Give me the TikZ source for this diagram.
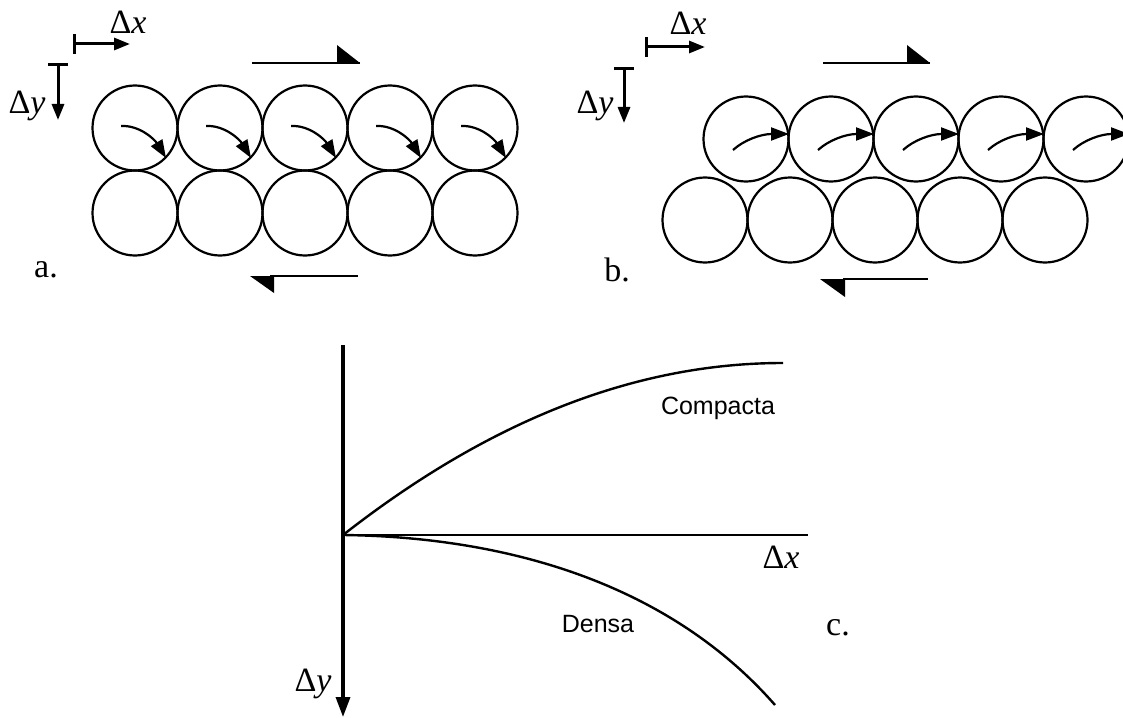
\documentclass[tikz,border=0pt]{standalone}
\usepackage{fontspec}
\newfontfamily\tms{Liberation Serif}
\newfontfamily\arl{Liberation Sans}
\usetikzlibrary{arrows.meta}
\tikzset{grain/.style={draw,circle,line width=1.1pt,minimum size=42.5pt,inner sep=0pt},
  roll/.style={line width=1.1pt,-{Triangle[length=9pt,width=6.5pt]}},
  disp/.style={line width=1.5pt,{Bar[width=10pt]}-{Triangle[length=8pt,width=6pt]}},
  lbl/.style={font=\tms\fontsize{17}{17}\selectfont},
  word/.style={font=\arl\fontsize{12.5}{12.5}\selectfont}}
\begin{document}
\begin{tikzpicture}[x=0.5pt,y=-0.5pt]
\useasboundingbox (0,0) rectangle (1123,717);
% a.
\coordinate (ax0) at (73,44); \coordinate (ax1) at (130,44);
\coordinate (ay0) at (58,63); \coordinate (ay1) at (58,120);
\draw[disp] (ax0)--(ax1);
\draw[disp] (ay0)--(ay1);
\node[lbl] (adx) at (128,22) {Δ\textit{x}};
\node[lbl] (ady) at (27,106) {Δ\textit{y}};
\foreach \xx/\nn in {135/1,220/2,305/3,390/4,475/5}{
\node[grain] (at\nn) at (\xx,128) {};
\node[grain] (ab\nn) at (\xx,213) {};
\draw[roll] (\xx-14,126) .. controls (\xx+5,125) and (\xx+20,140) .. (\xx+31,158);}
\draw[line width=1.4pt] (252,63)--(360,63);
\fill (337,45)--(337,63)--(360,63)--cycle;
\draw[line width=1.4pt] (270,276)--(358,276);
\fill (250,276)--(274,276)--(274,293)--cycle;
\node[lbl] (alab) at (46,270) {a.};
% b.
\coordinate (bx0) at (645,47); \coordinate (bx1) at (705,47);
\coordinate (by0) at (624,67); \coordinate (by1) at (624,123);
\draw[disp] (bx0)--(bx1);
\draw[disp] (by0)--(by1);
\node[lbl] (bdx) at (688,23) {Δ\textit{x}};
\node[lbl] (bdy) at (595,106) {Δ\textit{y}};
\foreach \xx/\nn in {746/1,831/2,916/3,1001/4,1086/5}{
\node[grain] (bt\nn) at (\xx,139) {};
\node[grain] (bb\nn) at (\xx-41,220) {};
\draw[roll] (\xx-13,150) .. controls (\xx-2,140) and (\xx+15,134) .. (\xx+43,134);}
\draw[line width=1.4pt] (823,63)--(930,63);
\fill (907,45)--(907,63)--(930,63)--cycle;
\draw[line width=1.4pt] (843,279)--(928,279);
\fill (820,279)--(845,279)--(845,297)--cycle;
\node[lbl] (blab) at (617,270) {b.};
% c.
\coordinate (o) at (343,535);
\coordinate (ytop) at (343,345);
\coordinate (ybot) at (343,717);
\coordinate (xend) at (808,535);
\draw[line width=1.7pt,-{Triangle[length=10pt,width=7pt]}] (ytop)--(ybot);
\draw[line width=1.4pt] (o)--(xend);
\draw[line width=1.2pt] (o) .. controls (490,420) and (636,363) .. (783,363);
\draw[line width=1.2pt] (o) .. controls (510,537) and (670,585) .. (775,705);
\node[word] (comp) at (718,408) {Compacta};
\node[word] (dens) at (598,624) {Densa};
\node[lbl] (cdx) at (781,557) {Δ\textit{x}};
\node[lbl] (cdy) at (313,684) {Δ\textit{y}};
\node[lbl] (clab) at (838,628) {c.};
\end{tikzpicture}
\end{document}
